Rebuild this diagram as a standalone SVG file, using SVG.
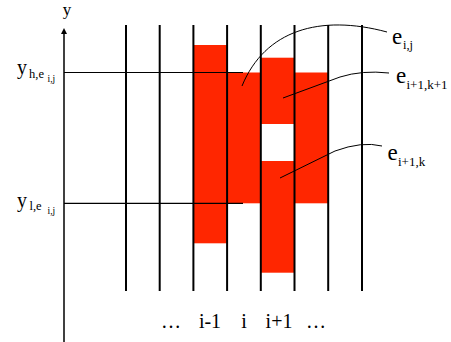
<svg xmlns="http://www.w3.org/2000/svg" width="451" height="342" viewBox="0 0 451 342">
<style>
.t{font-family:"Liberation Serif","Times New Roman",serif;fill:#000}
.grid{stroke:#000;stroke-width:2;fill:none}
.h{stroke:#000;stroke-width:1.2;fill:none}
.seg{fill:#ff2600;stroke:none}
.lead{stroke:#000;stroke-width:1;fill:none}
</style>
<rect width="451" height="342" fill="#fff"/>
<g id="segments">
<rect id="seg-im1" class="seg" x="193.4" y="45" width="33.7" height="198.3"/>
<rect id="seg-eij" class="seg" x="227.1" y="72.5" width="33.7" height="130.8"/>
<rect id="seg-ek1" class="seg" x="260.8" y="57.7" width="33.7" height="66.3"/>
<rect id="seg-ek" class="seg" x="260.8" y="161" width="33.7" height="111.7"/>
<rect id="seg-ip2" class="seg" x="294.5" y="72.5" width="33.7" height="130.8"/>
</g>
<g id="grid">
<line class="grid" x1="126" y1="25" x2="126" y2="291"/>
<line class="grid" x1="159.7" y1="25" x2="159.7" y2="291"/>
<line class="grid" x1="193.4" y1="25" x2="193.4" y2="291"/>
<line class="grid" x1="227.1" y1="25" x2="227.1" y2="291"/>
<line class="grid" x1="260.8" y1="25" x2="260.8" y2="291"/>
<line class="grid" x1="294.5" y1="25" x2="294.5" y2="291"/>
<line class="grid" x1="328.2" y1="25" x2="328.2" y2="291"/>
<line class="grid" x1="362" y1="25" x2="362" y2="291"/>
</g>
<g id="axis">
<line x1="64" y1="33" x2="64" y2="342" stroke="#000" stroke-width="1.5"/>
<polygon points="64,28 61,34 67,34" fill="#000"/>
<text class="t" x="67" y="14.5" font-size="17" text-anchor="middle">y</text>
</g>
<g id="level-high">
<line class="h" x1="64" y1="72.5" x2="243" y2="72.5"/>
<text class="t" x="17" y="74" font-size="20">y</text>
<text class="t" x="29" y="78" font-size="12.5">h,e</text>
<text class="t" x="47.5" y="81.5" font-size="9.5">i,j</text>
</g>
<g id="level-low">
<line class="h" x1="64" y1="203.3" x2="243" y2="203.3"/>
<text class="t" x="17" y="206.5" font-size="20">y</text>
<text class="t" x="29.5" y="210" font-size="12.5">l,e</text>
<text class="t" x="47.5" y="213.5" font-size="9.5">i,j</text>
</g>
<g id="connectors">
<path class="lead" d="M242,86 C265,30 320,14 387,32"/>
<path class="lead" d="M283,98 L340,77 Q362,70 389,73"/>
<path class="lead" d="M280,178 L335,151 Q362,141 382,146"/>
</g>
<g id="label-eij">
<text class="t" x="392" y="43.5" font-size="23">e</text>
<text class="t" x="403" y="49" font-size="12.5">i,j</text>
</g>
<g id="label-ek1">
<text class="t" x="396" y="82.5" font-size="23">e</text>
<text class="t" x="406.5" y="88.5" font-size="13">i+1,k+1</text>
</g>
<g id="label-ek">
<text class="t" x="387.5" y="160" font-size="23">e</text>
<text class="t" x="398" y="166" font-size="13">i+1,k</text>
</g>
<g id="xlabels">
<text class="t" x="171" y="328" font-size="20" text-anchor="middle">…</text>
<text class="t" x="210" y="328" font-size="20" text-anchor="middle">i-1</text>
<text class="t" x="244" y="328" font-size="20" text-anchor="middle">i</text>
<text class="t" x="279" y="328" font-size="20" text-anchor="middle">i+1</text>
<text class="t" x="316" y="328" font-size="20" text-anchor="middle">…</text>
</g>
</svg>
